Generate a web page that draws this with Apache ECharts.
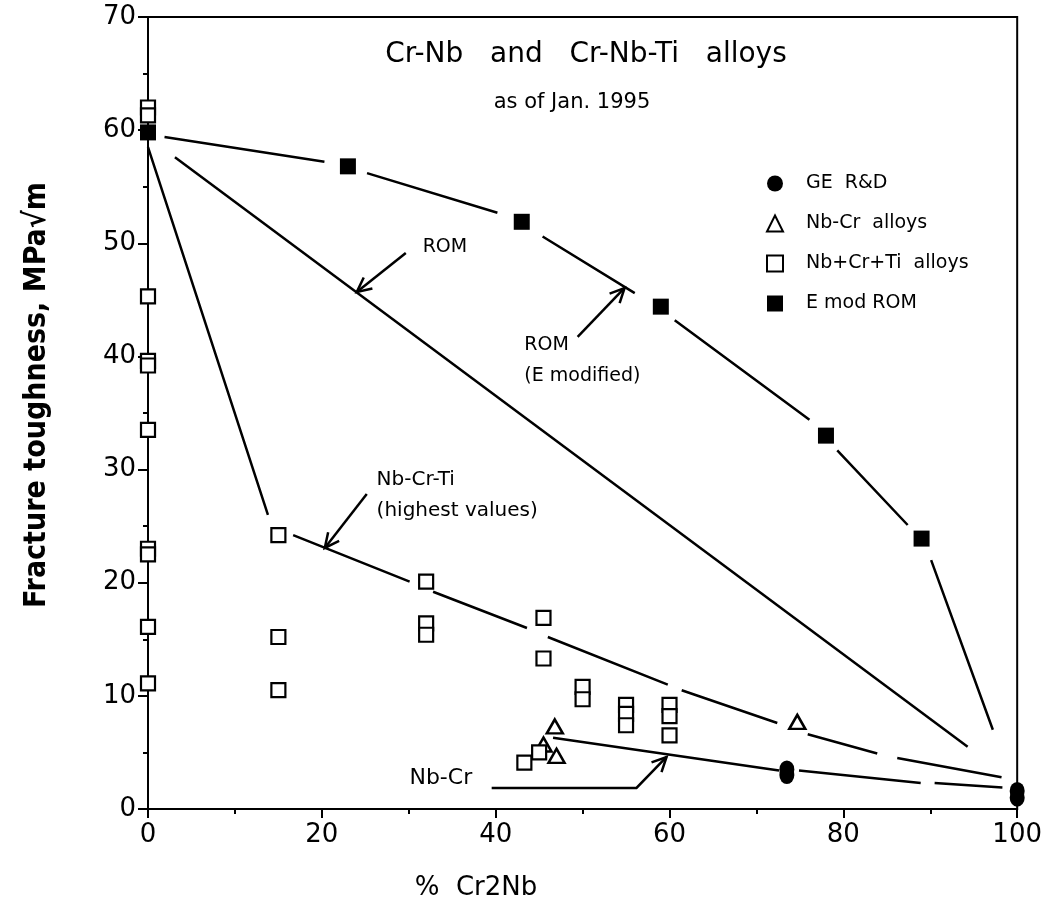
<!DOCTYPE html>
<html>
<head>
<meta charset="utf-8">
<script src="https://cdn.jsdelivr.net/npm/echarts@6/dist/echarts.min.js"></script>
<style>
  html, body { margin: 0; padding: 0; background: #fff; }
  #chart { width: 1045px; height: 914px; }
</style>
</head>
<body>
<div id="chart"></div>
<script>
const geRD = [[73.5, 3.5], [73.5, 3.0], [100, 1.6], [100, 1.0]];
const nbCrAlloys = [[45.5, 5.7], [46.8, 7.3], [47, 4.7], [74.7, 7.7]];
const nbCrTiAlloys = [
  [0, 62], [0, 61.3], [0, 45.3], [0, 39.6], [0, 39.2], [0, 33.5], [0, 23.0], [0, 22.5], [0, 16.1], [0, 11.1],
  [15, 24.2], [15, 15.2], [15, 10.5],
  [32, 20.1], [32, 16.4], [32, 15.4],
  [43.3, 4.1], [45, 5.0],
  [45.5, 16.9], [45.5, 13.3],
  [50, 10.8], [50, 9.7],
  [55, 9.2], [55, 8.4], [55, 7.4],
  [60, 9.2], [60, 8.2], [60, 6.5]
];
const eModRom = [[0, 59.8], [23, 56.8], [43, 51.9], [59, 44.4], [78, 33.0], [89, 23.9]];

// hand-drawn trend lines (pieces between the gaps)
const romLine = [[[3.1, 57.6], [94.3, 5.5]]];
const nbCrTiLine = [
  [[0, 58.5], [13.8, 26.0]], [[16.7, 24.2], [30.1, 20.1]], [[32.8, 19.2], [43.6, 16.0]],
  [[46.0, 15.2], [59.8, 11.0]], [[61.4, 10.5], [72.4, 7.6]], [[75.9, 6.6], [83.9, 4.9]],
  [[86.2, 4.5], [98.2, 2.8]]
];
const nbCrLine = [[[46.6, 6.3], [72.6, 3.4]], [[74.9, 3.4], [88.9, 2.3]], [[90.5, 2.3], [98.3, 1.9]]];
const eModLine = [
  [[1.9, 59.4], [20.3, 57.2]], [[25.2, 56.2], [40.2, 52.7]], [[45.4, 50.6], [56.0, 45.6]],
  [[60.6, 43.2], [76.1, 34.4]], [[79.3, 31.7], [87.4, 25.1]], [[90.1, 22.0], [97.2, 7.0]]
];

// annotations: text anchors and arrow paths in data units
const notes = [
  { lines: ['ROM'], at: [31.6, 49.7], align: 'left', size: 19 },
  { lines: ['ROM', '(E modified)'], at: [43.3, 41.0], align: 'left', size: 19 },
  { lines: ['Nb-Cr-Ti', '(highest values)'], at: [26.3, 29.1], align: 'left', size: 20 },
  { lines: ['Nb-Cr'], at: [37.3, 2.7], align: 'right', size: 22 }
];
const arrows = [
  [[29.66, 49.14], [24.02, 45.70]],
  [[49.43, 41.72], [54.83, 46.05]],
  [[25.17, 27.84], [20.34, 23.07]],
  [[39.54, 1.86], [56.2, 1.86], [59.66, 4.6]]
];

const FONT = 'DejaVu Sans';

function pieces(segs) {
  const out = [];
  segs.forEach((s, i) => {
    if (i > 0) out.push('-');
    s.forEach(p => out.push(p));
  });
  return out;
}

function trend(name, segs) {
  return {
    name: name,
    type: 'line',
    data: pieces(segs),
    symbol: 'none',
    connectNulls: false,
    silent: true,
    lineStyle: { color: '#000', width: 2.5 },
    z: 2
  };
}

function txt(text, x, y, size, align) {
  return {
    type: 'text',
    style: {
      text: text, x: x, y: y, align: align || 'center', verticalAlign: 'middle',
      fontFamily: FONT, fontSize: size, fill: '#000'
    }
  };
}

const chart = echarts.init(document.getElementById('chart'));

const option = {
  animation: false,
  backgroundColor: '#fff',
  textStyle: { fontFamily: FONT, color: '#000' },
  grid: {
    left: 148, right: 27, top: 17, bottom: 105,
    show: true, borderColor: '#000', borderWidth: 2
  },
  legend: {
    orient: 'vertical',
    left: 761, top: 169,
    itemWidth: 16, itemHeight: 16, itemGap: 21,
    data: ['GE  R&D', 'Nb-Cr  alloys', 'Nb+Cr+Ti  alloys', 'E mod ROM'],
    textStyle: { fontFamily: FONT, fontSize: 19, color: '#000', padding: [0, 0, 0, 18] }
  },
  xAxis: {
    type: 'value', min: 0, max: 100, interval: 20,
    axisLine: { lineStyle: { color: '#000', width: 2 } },
    axisTick: { length: 9, lineStyle: { color: '#000', width: 2 } },
    minorTick: { show: true, splitNumber: 2, length: 5, lineStyle: { color: '#000', width: 2 } },
    splitLine: { show: false },
    axisLabel: { fontFamily: FONT, fontSize: 26, color: '#000', margin: 13 }
  },
  yAxis: {
    type: 'value', min: 0, max: 70, interval: 10,
    axisLine: { lineStyle: { color: '#000', width: 2 } },
    axisTick: { length: 10, lineStyle: { color: '#000', width: 2 } },
    minorTick: { show: true, splitNumber: 2, length: 5, lineStyle: { color: '#000', width: 2 } },
    splitLine: { show: false },
    axisLabel: { fontFamily: FONT, fontSize: 26, color: '#000', margin: 12 }
  },
  series: [
    trend('ROM', romLine),
    trend('Nb-Cr-Ti', nbCrTiLine),
    trend('Nb-Cr', nbCrLine),
    trend('ROM (E modified)', eModLine),
    {
      name: 'GE  R&D', type: 'scatter', data: geRD,
      symbol: 'circle', symbolSize: [15, 18],
      itemStyle: { color: '#000', opacity: 1 }, z: 5
    },
    {
      name: 'Nb-Cr  alloys', type: 'scatter', data: nbCrAlloys,
      symbol: 'triangle', symbolSize: [16, 14],
      itemStyle: { color: '#fff', borderColor: '#000', borderWidth: 2.5, opacity: 1 }, z: 4
    },
    {
      name: 'Nb+Cr+Ti  alloys', type: 'scatter', data: nbCrTiAlloys,
      symbol: 'rect', symbolSize: 14,
      itemStyle: { color: '#fff', borderColor: '#000', borderWidth: 2.2, opacity: 1 }, z: 4
    },
    {
      name: 'E mod ROM', type: 'scatter', data: eModRom,
      symbol: 'rect', symbolSize: 16,
      itemStyle: { color: '#000', opacity: 1 }, z: 5
    }
  ]
};

chart.setOption(option);

// titles, axis names and annotations placed as graphics
const gfx = [
  txt('Cr-Nb   and   Cr-Nb-Ti   alloys', 586, 55, 28),
  txt('as of Jan. 1995', 572, 103, 21),
  txt('%  Cr2Nb', 476, 888, 26),
  {
    type: 'text', x: 37, y: 395, rotation: Math.PI / 2,
    style: {
      text: 'Fracture toughness, MPa\u221Am', x: 0, y: 0, align: 'center', verticalAlign: 'middle',
      fontFamily: 'DejaVu Sans Condensed', fontWeight: 'bold', fontSize: 30, fill: '#000'
    }
  }
];

notes.forEach(n => {
  const p = chart.convertToPixel({ gridIndex: 0 }, n.at);
  n.lines.forEach((t, i) => gfx.push(txt(t, p[0], p[1] + i * 31, n.size, n.align)));
});

arrows.forEach(a => {
  const pts = a.map(d => chart.convertToPixel({ gridIndex: 0 }, d));
  gfx.push({ type: 'polyline', shape: { points: pts }, style: { stroke: '#000', lineWidth: 2.5, fill: null } });
  const tip = pts[pts.length - 1];
  const prev = pts[pts.length - 2];
  const ang = Math.atan2(tip[1] - prev[1], tip[0] - prev[0]);
  const len = 16, spread = 0.45;
  const w1 = [tip[0] - len * Math.cos(ang - spread), tip[1] - len * Math.sin(ang - spread)];
  const w2 = [tip[0] - len * Math.cos(ang + spread), tip[1] - len * Math.sin(ang + spread)];
  gfx.push({ type: 'polyline', shape: { points: [w1, tip, w2] }, style: { stroke: '#000', lineWidth: 2.5, fill: null } });
});

chart.setOption({ graphic: gfx });
</script>
</body>
</html>
